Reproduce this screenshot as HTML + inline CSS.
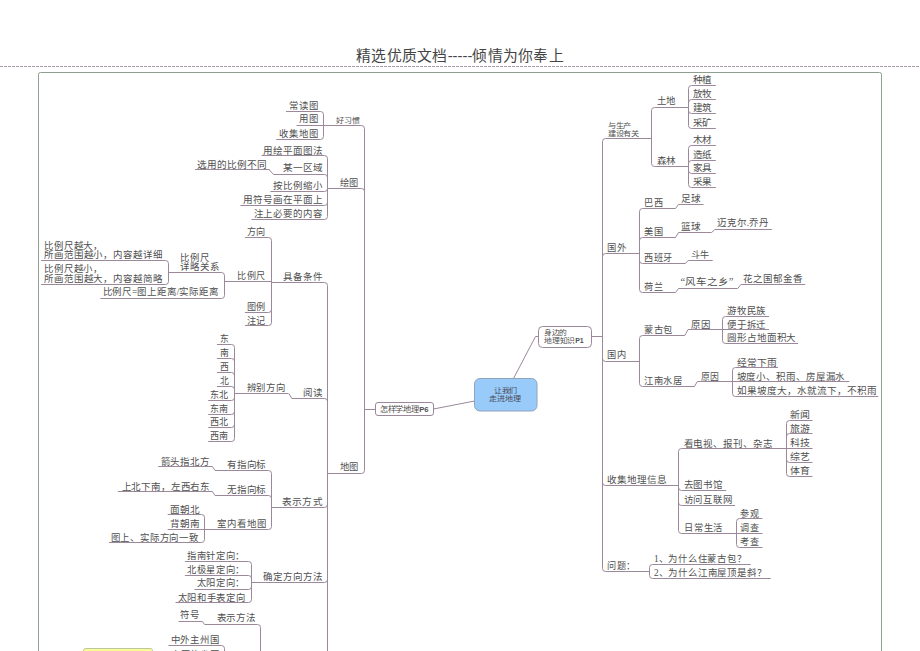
<!DOCTYPE html>
<html lang="zh-CN"><head><meta charset="utf-8"><title>mind map</title>
<style>
html,body{margin:0;padding:0;background:#fff;width:920px;height:651px;overflow:hidden}
svg{display:block;font-family:"Liberation Serif",serif}
</style></head><body>
<svg width="920" height="651" viewBox="0 0 920 651">
<text x="356.2" y="60.6" font-size="14.6" fill="#444" textLength="207.6" lengthAdjust="spacingAndGlyphs" style="font-family:'Liberation Sans',sans-serif">精选优质文档-----倾情为你奉上</text>
<path d="M0 66.5H920" stroke="#a89ca8" stroke-width="1" stroke-dasharray="3 1" fill="none"/>
<path d="M38.5 651V74.5Q38.5 72.5 40.5 72.5H879.5Q881.5 72.5 881.5 74.5V651" stroke="#8f9f8f" stroke-width="1" fill="none"/>
<g fill="none" stroke="#9b899b" stroke-width="1">
<path d="M364.5 128.5V470.5"/>
<path d="M364.5 409.5H375.2"/>
<path d="M323.4 125.5H361.5Q364.5 125.5 364.5 128.5"/>
<path d="M323.5 114.5V136.5"/>
<path d="M286.0 111.5H320.5Q323.5 111.5 323.5 114.5"/>
<path d="M296.5 125.5H323.5"/>
<path d="M276.3 139.5H320.5Q323.5 139.5 323.5 136.5"/>
<path d="M327.4 188.5H361.5Q364.5 188.5 364.5 191.5"/>
<path d="M327.5 158.5V216.5"/>
<path d="M261.5 155.5H324.5Q327.5 155.5 327.5 158.5"/>
<path d="M273.5 174.5H324.5Q327.5 174.5 327.5 177.5"/>
<path d="M195.0 169.5H269.5"/>
<path d="M269.0 169.5L273.5 174.5"/>
<path d="M270.4 191.5H324.5Q327.5 191.5 327.5 188.5"/>
<path d="M240.4 205.5H324.5Q327.5 205.5 327.5 202.5"/>
<path d="M251.5 219.5H324.5Q327.5 219.5 327.5 216.5"/>
<path d="M327.6 473.5H361.5Q364.5 473.5 364.5 470.5"/>
<path d="M327.5 285.5V651"/>
<path d="M271.6 282.5H324.5Q327.5 282.5 327.5 285.5"/>
<path d="M271.5 240.5V322.5"/>
<path d="M244.9 237.5H268.5Q271.5 237.5 271.5 240.5"/>
<path d="M224.6 281.5H271.5"/>
<path d="M244.9 312.5H268.5Q271.5 312.5 271.5 309.5"/>
<path d="M244.9 325.5H268.5Q271.5 325.5 271.5 322.5"/>
<path d="M224.5 275.5V295.5"/>
<path d="M168.9 272.5H221.5Q224.5 272.5 224.5 275.5"/>
<path d="M100.4 298.5H221.5Q224.5 298.5 224.5 295.5"/>
<path d="M168.5 263.5V281.5"/>
<path d="M41.1 260.5H165.5Q168.5 260.5 168.5 263.5"/>
<path d="M41.1 284.5H165.5Q168.5 284.5 168.5 281.5"/>
<path d="M291.8 398.5H324.5Q327.5 398.5 327.5 401.5"/>
<path d="M234.6 393.5H288.5"/>
<path d="M288.9 393.5L291.8 398.5"/>
<path d="M234.5 347.5V438.5"/>
<path d="M216.9 344.5H231.5Q234.5 344.5 234.5 347.5"/>
<path d="M216.9 358.5H231.5Q234.5 358.5 234.5 361.5"/>
<path d="M216.9 372.5H231.5Q234.5 372.5 234.5 375.5"/>
<path d="M216.9 386.5H231.5Q234.5 386.5 234.5 389.5"/>
<path d="M208.2 400.5H231.5Q234.5 400.5 234.5 397.5"/>
<path d="M208.2 414.5H231.5Q234.5 414.5 234.5 411.5"/>
<path d="M208.2 427.5H231.5Q234.5 427.5 234.5 424.5"/>
<path d="M208.2 441.5H231.5Q234.5 441.5 234.5 438.5"/>
<path d="M271.1 507.5H324.5Q327.5 507.5 327.5 504.5"/>
<path d="M271.5 473.5V526.5"/>
<path d="M215.0 470.5H268.5Q271.5 470.5 271.5 473.5"/>
<path d="M158.2 466.5H212.5"/>
<path d="M212.4 466.5L215.0 470.5"/>
<path d="M215.0 495.5H268.5Q271.5 495.5 271.5 498.5"/>
<path d="M117.9 491.5H212.5"/>
<path d="M212.4 491.5L215.0 495.5"/>
<path d="M204.7 529.5H268.5Q271.5 529.5 271.5 526.5"/>
<path d="M204.5 517.5V539.5"/>
<path d="M167.7 514.5H201.5Q204.5 514.5 204.5 517.5"/>
<path d="M167.7 529.5H204.5"/>
<path d="M108.9 542.5H201.5Q204.5 542.5 204.5 539.5"/>
<path d="M251.3 582.5H324.5Q327.5 582.5 327.5 579.5"/>
<path d="M251.5 564.5V599.5"/>
<path d="M184.9 561.5H248.5Q251.5 561.5 251.5 564.5"/>
<path d="M184.9 575.5H248.5Q251.5 575.5 251.5 578.5"/>
<path d="M194.5 589.5H248.5Q251.5 589.5 251.5 586.5"/>
<path d="M175.5 602.5H248.5Q251.5 602.5 251.5 599.5"/>
<path d="M204.6 624.5H257.5Q260.5 624.5 260.5 627.5"/>
<path d="M260.5 627.5V651"/>
<path d="M178.6 621.5H202.5"/>
<path d="M202.5 621.5L204.6 624.5"/>
<path d="M168.4 645.5H221.5Q224.5 645.5 224.5 648.5"/>
<path d="M224.5 648.5V651"/>
<path d="M602.5 141.5V568.5"/>
<path d="M591.9 336.5H602.5"/>
<path d="M602.5 141.5Q602.5 138.5 605.5 138.5H651.2"/>
<path d="M651.5 110.5V163.5"/>
<path d="M651.5 110.5Q651.5 107.5 654.5 107.5H688.1"/>
<path d="M651.5 163.5Q651.5 166.5 654.5 166.5H688.1"/>
<path d="M688.5 88.5V125.5"/>
<path d="M688.5 88.5Q688.5 85.5 691.5 85.5H715.8"/>
<path d="M688.5 102.5Q688.5 99.5 691.5 99.5H715.8"/>
<path d="M688.5 110.5Q688.5 113.5 691.5 113.5H715.8"/>
<path d="M688.5 125.5Q688.5 128.5 691.5 128.5H715.8"/>
<path d="M688.5 148.5V184.5"/>
<path d="M688.5 148.5Q688.5 145.5 691.5 145.5H715.8"/>
<path d="M688.5 163.5Q688.5 160.5 691.5 160.5H715.8"/>
<path d="M688.5 170.5Q688.5 173.5 691.5 173.5H715.8"/>
<path d="M688.5 184.5Q688.5 187.5 691.5 187.5H715.8"/>
<path d="M602.5 256.5Q602.5 253.5 605.5 253.5H639.3"/>
<path d="M639.5 211.5V289.5"/>
<path d="M639.5 211.5Q639.5 208.5 642.5 208.5H675.5"/>
<path d="M675.5 208.5L678.5 204.5"/>
<path d="M678.5 204.5H703.6"/>
<path d="M639.5 240.5Q639.5 237.5 642.5 237.5H675.5"/>
<path d="M675.5 237.5L678.5 232.5"/>
<path d="M678.5 232.5H711.6"/>
<path d="M711.6 232.5L714.8 229.5"/>
<path d="M714.8 229.5H771.9"/>
<path d="M639.5 260.5Q639.5 263.5 642.5 263.5H685.4"/>
<path d="M685.4 263.5L688.2 260.5"/>
<path d="M688.2 260.5H712.7"/>
<path d="M639.5 289.5Q639.5 292.5 642.5 292.5H675.5"/>
<path d="M675.5 292.5L678.5 288.5"/>
<path d="M678.5 288.5H737.7"/>
<path d="M737.7 288.5L740.9 284.5"/>
<path d="M740.9 284.5H805.3"/>
<path d="M602.5 358.5Q602.5 361.5 605.5 361.5H639.5"/>
<path d="M639.5 338.5V383.5"/>
<path d="M639.5 338.5Q639.5 335.5 642.5 335.5H684.8"/>
<path d="M684.8 335.5L688.0 329.5"/>
<path d="M722.5 329.5H722.3"/>
<path d="M688.0 329.5H722.5"/>
<path d="M722.5 319.5V340.5"/>
<path d="M722.5 319.5Q722.5 316.5 725.5 316.5H769.1"/>
<path d="M722.5 329.5H769.1"/>
<path d="M722.5 340.5Q722.5 343.5 725.5 343.5H798.1"/>
<path d="M639.5 383.5Q639.5 386.5 642.5 386.5H694.5"/>
<path d="M694.5 386.5L697.3 381.5"/>
<path d="M697.3 381.5H732.5"/>
<path d="M732.5 370.5V393.5"/>
<path d="M732.5 370.5Q732.5 367.5 735.5 367.5H778.0"/>
<path d="M732.5 381.5H849.3"/>
<path d="M732.5 393.5Q732.5 396.5 735.5 396.5H878.3"/>
<path d="M602.5 482.5Q602.5 485.5 605.5 485.5H678.8"/>
<path d="M678.5 451.5V530.5"/>
<path d="M678.5 451.5Q678.5 448.5 681.5 448.5H786.2"/>
<path d="M786.5 423.5V473.5"/>
<path d="M786.5 423.5Q786.5 420.5 789.5 420.5H812.5"/>
<path d="M786.5 436.5Q786.5 433.5 789.5 433.5H812.5"/>
<path d="M786.5 448.5H812.5"/>
<path d="M786.5 459.5Q786.5 462.5 789.5 462.5H812.5"/>
<path d="M786.5 473.5Q786.5 476.5 789.5 476.5H812.5"/>
<path d="M678.5 487.5Q678.5 490.5 681.5 490.5H726.2"/>
<path d="M678.5 502.5Q678.5 505.5 681.5 505.5H735.0"/>
<path d="M678.5 530.5Q678.5 533.5 681.5 533.5H736.2"/>
<path d="M736.5 521.5V544.5"/>
<path d="M736.5 521.5Q736.5 518.5 739.5 518.5H762.5"/>
<path d="M736.5 533.5H762.5"/>
<path d="M736.5 544.5Q736.5 547.5 739.5 547.5H762.5"/>
<path d="M602.5 568.5Q602.5 571.5 605.5 571.5H649.9"/>
<path d="M649.5 567.5V575.5"/>
<path d="M649.5 567.5Q649.5 564.5 652.5 564.5H750.7"/>
<path d="M649.5 575.5Q649.5 578.5 652.5 578.5H770.8"/>
<path d="M433.5 409L474.5 401"/>
<path d="M513.5 378.5L535.5 336.5H538.5"/>
</g>
<rect x="375.5" y="402.5" width="58" height="13" rx="2.5" fill="#fff" stroke="#9b899b"/>
<rect x="538.5" y="326.5" width="53" height="21" rx="4" fill="#fff" stroke="#9b899b"/>
<rect x="474.5" y="378.5" width="62.5" height="32.5" rx="5.5" fill="#98cbf9" stroke="#8ea4bc"/>
<rect x="83.5" y="648.5" width="69" height="10" rx="2" fill="#fdfa9a" stroke="#b8c89a"/>
<text x="336.1" y="123.0" font-size="7.2" fill="#505050" textLength="23.3" lengthAdjust="spacingAndGlyphs">好习惯</text>
<text x="289.1" y="108.8" font-size="9.6" fill="#505050" textLength="29.3" lengthAdjust="spacingAndGlyphs">常读图</text>
<text x="298.8" y="121.8" font-size="9.6" fill="#505050" textLength="19.6" lengthAdjust="spacingAndGlyphs">用图</text>
<text x="279.4" y="136.8" font-size="9.6" fill="#505050" textLength="39.0" lengthAdjust="spacingAndGlyphs">收集地图</text>
<text x="339.8" y="185.9" font-size="9.6" fill="#505050" textLength="19.1" lengthAdjust="spacingAndGlyphs">绘图</text>
<text x="263.1" y="153.8" font-size="9.6" fill="#505050" textLength="59.7" lengthAdjust="spacingAndGlyphs">用绘平面图法</text>
<text x="282.8" y="171.2" font-size="9.6" fill="#505050" textLength="40.0" lengthAdjust="spacingAndGlyphs">某一区域</text>
<text x="197.2" y="167.5" font-size="9.6" fill="#505050" textLength="70.2" lengthAdjust="spacingAndGlyphs">选用的比例不同</text>
<text x="273.3" y="189.2" font-size="9.6" fill="#505050" textLength="49.2" lengthAdjust="spacingAndGlyphs">按比例缩小</text>
<text x="242.6" y="203.4" font-size="9.6" fill="#505050" textLength="79.9" lengthAdjust="spacingAndGlyphs">用符号画在平面上</text>
<text x="253.6" y="217.1" font-size="9.6" fill="#505050" textLength="68.9" lengthAdjust="spacingAndGlyphs">注上必要的内容</text>
<text x="339.8" y="470.2" font-size="9.6" fill="#505050" textLength="19.4" lengthAdjust="spacingAndGlyphs">地图</text>
<text x="283.0" y="280.0" font-size="9.6" fill="#505050" textLength="39.4" lengthAdjust="spacingAndGlyphs">具备条件</text>
<text x="246.5" y="234.9" font-size="9.6" fill="#505050" textLength="19.0" lengthAdjust="spacingAndGlyphs">方向</text>
<text x="237.3" y="279.1" font-size="9.6" fill="#505050" textLength="28.2" lengthAdjust="spacingAndGlyphs">比例尺</text>
<text x="246.5" y="309.8" font-size="9.6" fill="#505050" textLength="19.0" lengthAdjust="spacingAndGlyphs">图例</text>
<text x="246.5" y="324.2" font-size="9.6" fill="#505050" textLength="19.0" lengthAdjust="spacingAndGlyphs">注记</text>
<text x="180.2" y="260.6" font-size="9.6" fill="#505050" textLength="29.2" lengthAdjust="spacingAndGlyphs">比例尺</text>
<text x="180.2" y="269.9" font-size="9.6" fill="#505050" textLength="39.2" lengthAdjust="spacingAndGlyphs">详略关系</text>
<text x="102.5" y="295.4" font-size="9.6" fill="#505050" textLength="116.4" lengthAdjust="spacingAndGlyphs">比例尺=图上距离/实际距离</text>
<text x="44.2" y="248.7" font-size="9.6" fill="#505050" textLength="58.7" lengthAdjust="spacingAndGlyphs">比例尺越大，</text>
<text x="44.2" y="258.1" font-size="9.6" fill="#505050" textLength="118.3" lengthAdjust="spacingAndGlyphs">所画范围越小，内容越详细</text>
<text x="44.2" y="271.5" font-size="9.6" fill="#505050" textLength="58.7" lengthAdjust="spacingAndGlyphs">比例尺越小，</text>
<text x="44.2" y="281.7" font-size="9.6" fill="#505050" textLength="118.3" lengthAdjust="spacingAndGlyphs">所画范围越大，内容越简略</text>
<text x="303.1" y="396.2" font-size="9.6" fill="#505050" textLength="19.8" lengthAdjust="spacingAndGlyphs">阅读</text>
<text x="246.5" y="390.5" font-size="9.6" fill="#505050" textLength="39.0" lengthAdjust="spacingAndGlyphs">辨别方向</text>
<text x="219.6" y="341.6" font-size="9.6" fill="#505050" textLength="9.2" lengthAdjust="spacingAndGlyphs">东</text>
<text x="219.6" y="356.0" font-size="9.6" fill="#505050" textLength="9.2" lengthAdjust="spacingAndGlyphs">南</text>
<text x="219.6" y="369.5" font-size="9.6" fill="#505050" textLength="9.2" lengthAdjust="spacingAndGlyphs">西</text>
<text x="219.6" y="383.9" font-size="9.6" fill="#505050" textLength="9.2" lengthAdjust="spacingAndGlyphs">北</text>
<text x="210.0" y="397.7" font-size="9.6" fill="#505050" textLength="18.8" lengthAdjust="spacingAndGlyphs">东北</text>
<text x="210.0" y="411.7" font-size="9.6" fill="#505050" textLength="18.8" lengthAdjust="spacingAndGlyphs">东南</text>
<text x="210.0" y="425.1" font-size="9.6" fill="#505050" textLength="18.8" lengthAdjust="spacingAndGlyphs">西北</text>
<text x="210.0" y="438.6" font-size="9.6" fill="#505050" textLength="18.8" lengthAdjust="spacingAndGlyphs">西南</text>
<text x="282.4" y="505.0" font-size="9.6" fill="#505050" textLength="40.2" lengthAdjust="spacingAndGlyphs">表示方式</text>
<text x="226.8" y="468.0" font-size="9.6" fill="#505050" textLength="39.6" lengthAdjust="spacingAndGlyphs">有指向标</text>
<text x="160.6" y="464.6" font-size="9.6" fill="#505050" textLength="49.1" lengthAdjust="spacingAndGlyphs">箭头指北方</text>
<text x="226.8" y="492.7" font-size="9.6" fill="#505050" textLength="39.6" lengthAdjust="spacingAndGlyphs">无指向标</text>
<text x="121.5" y="489.7" font-size="9.6" fill="#505050" textLength="88.7" lengthAdjust="spacingAndGlyphs">上北下南，左西右东</text>
<text x="217.3" y="527.2" font-size="9.6" fill="#505050" textLength="49.1" lengthAdjust="spacingAndGlyphs">室内看地图</text>
<text x="170.0" y="513.2" font-size="9.6" fill="#505050" textLength="30.0" lengthAdjust="spacingAndGlyphs">面朝北</text>
<text x="170.0" y="527.2" font-size="9.6" fill="#505050" textLength="30.0" lengthAdjust="spacingAndGlyphs">背朝南</text>
<text x="110.5" y="540.7" font-size="9.6" fill="#505050" textLength="88.2" lengthAdjust="spacingAndGlyphs">图上、实际方向一致</text>
<text x="263.2" y="579.9" font-size="9.6" fill="#505050" textLength="59.5" lengthAdjust="spacingAndGlyphs">确定方向方法</text>
<text x="186.9" y="558.7" font-size="9.6" fill="#505050" textLength="58.0" lengthAdjust="spacingAndGlyphs">指南针定向：</text>
<text x="186.9" y="572.7" font-size="9.6" fill="#505050" textLength="58.0" lengthAdjust="spacingAndGlyphs">北极星定向：</text>
<text x="196.6" y="586.2" font-size="9.6" fill="#505050" textLength="48.3" lengthAdjust="spacingAndGlyphs">太阳定向：</text>
<text x="177.5" y="600.7" font-size="9.6" fill="#505050" textLength="67.8" lengthAdjust="spacingAndGlyphs">太阳和手表定向</text>
<text x="216.5" y="621.4" font-size="9.6" fill="#505050" textLength="39.4" lengthAdjust="spacingAndGlyphs">表示方法</text>
<text x="180.1" y="618.0" font-size="9.6" fill="#505050" textLength="19.6" lengthAdjust="spacingAndGlyphs">符号</text>
<text x="170.7" y="642.5" font-size="9.6" fill="#505050" textLength="48.9" lengthAdjust="spacingAndGlyphs">中外主州国</text>
<text x="170.8" y="657.7" font-size="9.6" fill="#505050" textLength="48.8" lengthAdjust="spacingAndGlyphs">中国的省区</text>
<text x="607.8" y="127.9" font-size="7.4" fill="#505050" textLength="23.3" lengthAdjust="spacingAndGlyphs">与生产</text>
<text x="607.8" y="136.0" font-size="7.4" fill="#505050" textLength="31.1" lengthAdjust="spacingAndGlyphs">建设有关</text>
<text x="656.6" y="103.9" font-size="9.6" fill="#505050" textLength="19.6" lengthAdjust="spacingAndGlyphs">土地</text>
<text x="656.6" y="163.6" font-size="9.6" fill="#505050" textLength="19.8" lengthAdjust="spacingAndGlyphs">森林</text>
<text x="692.5" y="82.8" font-size="9.6" fill="#505050" textLength="19.9" lengthAdjust="spacingAndGlyphs">种植</text>
<text x="692.5" y="96.8" font-size="9.6" fill="#505050" textLength="19.9" lengthAdjust="spacingAndGlyphs">放牧</text>
<text x="692.5" y="111.0" font-size="9.6" fill="#505050" textLength="19.9" lengthAdjust="spacingAndGlyphs">建筑</text>
<text x="692.5" y="125.8" font-size="9.6" fill="#505050" textLength="19.9" lengthAdjust="spacingAndGlyphs">采矿</text>
<text x="692.5" y="142.9" font-size="9.6" fill="#505050" textLength="19.9" lengthAdjust="spacingAndGlyphs">木材</text>
<text x="692.5" y="157.7" font-size="9.6" fill="#505050" textLength="19.9" lengthAdjust="spacingAndGlyphs">造纸</text>
<text x="692.5" y="171.0" font-size="9.6" fill="#505050" textLength="19.9" lengthAdjust="spacingAndGlyphs">家具</text>
<text x="692.5" y="184.8" font-size="9.6" fill="#505050" textLength="19.9" lengthAdjust="spacingAndGlyphs">采果</text>
<text x="607.3" y="250.6" font-size="9.6" fill="#505050" textLength="19.4" lengthAdjust="spacingAndGlyphs">国外</text>
<text x="644.2" y="206.0" font-size="9.6" fill="#505050" textLength="19.1" lengthAdjust="spacingAndGlyphs">巴西</text>
<text x="680.5" y="202.1" font-size="9.6" fill="#505050" textLength="20.0" lengthAdjust="spacingAndGlyphs">足球</text>
<text x="644.2" y="234.9" font-size="9.6" fill="#505050" textLength="19.2" lengthAdjust="spacingAndGlyphs">美国</text>
<text x="680.5" y="229.9" font-size="9.6" fill="#505050" textLength="20.0" lengthAdjust="spacingAndGlyphs">篮球</text>
<text x="717.1" y="226.1" font-size="9.6" fill="#505050" textLength="51.9" lengthAdjust="spacingAndGlyphs">迈克尔.乔丹</text>
<text x="644.2" y="261.2" font-size="9.6" fill="#505050" textLength="28.6" lengthAdjust="spacingAndGlyphs">西班牙</text>
<text x="690.7" y="257.6" font-size="9.6" fill="#505050" textLength="19.0" lengthAdjust="spacingAndGlyphs">斗牛</text>
<text x="644.2" y="290.2" font-size="9.6" fill="#505050" textLength="19.2" lengthAdjust="spacingAndGlyphs">荷兰</text>
<text x="680.4" y="285.3" font-size="9.6" fill="#505050" textLength="53.0" lengthAdjust="spacingAndGlyphs">“风车之乡”</text>
<text x="743.2" y="281.5" font-size="9.6" fill="#505050" textLength="59.2" lengthAdjust="spacingAndGlyphs">花之国郁金香</text>
<text x="607.0" y="358.3" font-size="9.6" fill="#505050" textLength="19.2" lengthAdjust="spacingAndGlyphs">国内</text>
<text x="644.1" y="332.9" font-size="9.6" fill="#505050" textLength="29.0" lengthAdjust="spacingAndGlyphs">蒙古包</text>
<text x="690.9" y="327.6" font-size="9.6" fill="#505050" textLength="19.6" lengthAdjust="spacingAndGlyphs">原因</text>
<text x="727.0" y="313.8" font-size="9.6" fill="#505050" textLength="39.2" lengthAdjust="spacingAndGlyphs">游牧民族</text>
<text x="727.0" y="327.6" font-size="9.6" fill="#505050" textLength="39.2" lengthAdjust="spacingAndGlyphs">便于拆迁</text>
<text x="727.0" y="341.0" font-size="9.6" fill="#505050" textLength="69.3" lengthAdjust="spacingAndGlyphs">圆形占地面积大</text>
<text x="644.1" y="384.3" font-size="9.6" fill="#505050" textLength="38.8" lengthAdjust="spacingAndGlyphs">江南水居</text>
<text x="701.0" y="380.0" font-size="9.6" fill="#505050" textLength="18.4" lengthAdjust="spacingAndGlyphs">原因</text>
<text x="736.6" y="365.5" font-size="9.6" fill="#505050" textLength="40.7" lengthAdjust="spacingAndGlyphs">经常下雨</text>
<text x="736.6" y="380.0" font-size="9.6" fill="#505050" textLength="108.7" lengthAdjust="spacingAndGlyphs">坡度小、积雨、房屋漏水</text>
<text x="736.6" y="393.8" font-size="9.6" fill="#505050" textLength="139.9" lengthAdjust="spacingAndGlyphs">如果坡度大，水就流下，不积雨</text>
<text x="606.8" y="482.9" font-size="9.6" fill="#505050" textLength="59.9" lengthAdjust="spacingAndGlyphs">收集地理信息</text>
<text x="683.5" y="446.7" font-size="9.6" fill="#505050" textLength="89.3" lengthAdjust="spacingAndGlyphs">看电视、报刊、杂志</text>
<text x="789.8" y="417.9" font-size="9.6" fill="#505050" textLength="20.6" lengthAdjust="spacingAndGlyphs">新闻</text>
<text x="789.8" y="431.6" font-size="9.6" fill="#505050" textLength="20.6" lengthAdjust="spacingAndGlyphs">旅游</text>
<text x="789.8" y="446.1" font-size="9.6" fill="#505050" textLength="20.6" lengthAdjust="spacingAndGlyphs">科技</text>
<text x="789.8" y="460.4" font-size="9.6" fill="#505050" textLength="20.6" lengthAdjust="spacingAndGlyphs">综艺</text>
<text x="789.8" y="474.1" font-size="9.6" fill="#505050" textLength="20.6" lengthAdjust="spacingAndGlyphs">体育</text>
<text x="683.5" y="487.9" font-size="9.6" fill="#505050" textLength="39.4" lengthAdjust="spacingAndGlyphs">去图书馆</text>
<text x="683.5" y="502.5" font-size="9.6" fill="#505050" textLength="48.9" lengthAdjust="spacingAndGlyphs">访问互联网</text>
<text x="684.3" y="531.4" font-size="9.6" fill="#505050" textLength="38.6" lengthAdjust="spacingAndGlyphs">日常生活</text>
<text x="740.3" y="516.6" font-size="9.6" fill="#505050" textLength="18.9" lengthAdjust="spacingAndGlyphs">参观</text>
<text x="740.3" y="530.9" font-size="9.6" fill="#505050" textLength="18.9" lengthAdjust="spacingAndGlyphs">调查</text>
<text x="740.3" y="544.8" font-size="9.6" fill="#505050" textLength="18.9" lengthAdjust="spacingAndGlyphs">考查</text>
<text x="607.3" y="569.2" font-size="9.6" fill="#505050" textLength="28.6" lengthAdjust="spacingAndGlyphs">问题：</text>
<text x="654.0" y="561.6" font-size="9.6" fill="#505050" textLength="92.4" lengthAdjust="spacingAndGlyphs">1、为什么住蒙古包？</text>
<text x="654.0" y="575.8" font-size="9.6" fill="#505050" textLength="112.4" lengthAdjust="spacingAndGlyphs">2、为什么江南屋顶是斜？</text>
<text x="379.9" y="411.8" font-size="7.5" fill="#505050" textLength="38.6" lengthAdjust="spacingAndGlyphs">怎样学地理</text>
<text x="419.2" y="411.8" font-size="7.8" fill="#505050" textLength="9.4" lengthAdjust="spacingAndGlyphs" style="font-family:'Liberation Sans',sans-serif;font-weight:bold">P6</text>
<text x="544.3" y="335.3" font-size="7.2" fill="#505050" textLength="22.7" lengthAdjust="spacingAndGlyphs">身边的</text>
<text x="544.3" y="342.8" font-size="7.2" fill="#505050" textLength="30.5" lengthAdjust="spacingAndGlyphs">地理知识</text>
<text x="575.2" y="342.8" font-size="7.6" fill="#505050" textLength="8.6" lengthAdjust="spacingAndGlyphs" style="font-family:'Liberation Sans',sans-serif;font-weight:bold">P1</text>
<text x="493.7" y="392.8" font-size="7.2" fill="#4a4a5a" textLength="23.5" lengthAdjust="spacingAndGlyphs">让我们</text>
<text x="489.3" y="400.6" font-size="7.2" fill="#4a4a5a" textLength="31.4" lengthAdjust="spacingAndGlyphs">走进地理</text>
</svg>
</body></html>
